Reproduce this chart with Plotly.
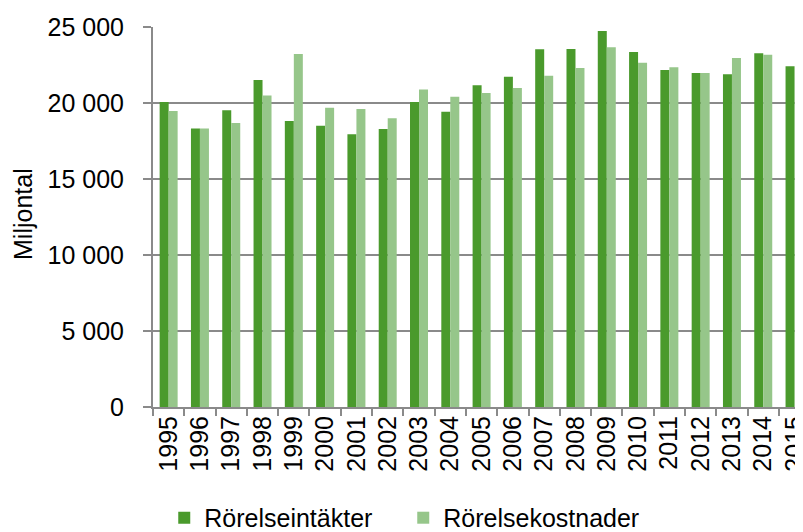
import plotly.graph_objects as go

years = [str(y) for y in range(1995, 2016)]
intakter = [20070, 18330, 19520, 21510, 18820, 18500, 17940, 18290, 20070, 19430,
            21160, 21730, 23530, 23550, 24740, 23360, 22170, 21970, 21890, 23270, 22410]
kostnader = [19470, 18330, 18680, 20500, 23220, 19690, 19600, 18990, 20880, 20410,
             20660, 20990, 21800, 22300, 23660, 22650, 22350, 21970, 22960, 23180, 21660]
y_tickvals = [0, 5000, 10000, 15000, 20000, 25000]
y_ticktext = ["0", "5 000", "10 000", "15 000", "20 000", "25 000"]
series_names = ["Rörelseintäkter", "Rörelsekostnader"]
y_title = "Miljontal"

FONT = "Liberation Sans, Arial, sans-serif"
GRAY = "#8a8a8a"

fig = go.Figure()
fig.add_trace(go.Bar(x=years, y=intakter, name=series_names[0],
                     marker=dict(color="#4a9a2c", line=dict(width=0))))
fig.add_trace(go.Bar(x=years, y=kostnader, name=series_names[1],
                     marker=dict(color="#96c68a", line=dict(width=0))))

# page body has an 8px margin; figure is sized to fill the rest of the window
fig.update_layout(
    width=795, height=524,
    margin=dict(l=145, r=0, t=19, b=125, pad=0, autoexpand=False),
    paper_bgcolor="white", plot_bgcolor="white",
    font=dict(family=FONT, size=25, color="#000000"),
    barmode="group", bargap=0.425, bargroupgap=0,
    showlegend=True,
    legend=dict(orientation="h", x=0.385, xanchor="center", y=-0.292, yanchor="middle",
                font=dict(size=25), bgcolor="rgba(0,0,0,0)", itemclick=False,
                tracegroupgap=0, entrywidth=194),
    annotations=[dict(text=y_title, textangle=-90, xref="paper", yref="paper",
                      x=-0.2, y=0.508, xanchor="center", yanchor="middle",
                      showarrow=False, font=dict(size=25))],
)
fig.update_xaxes(
    type="category", range=[-0.5, 20.27], automargin=False,
    tickangle=-90, tickson="boundaries", ticks="outside", ticklen=7,
    tickcolor=GRAY, tickwidth=2, showline=True, linecolor=GRAY, linewidth=2,
    showgrid=False, tickfont=dict(size=25), ticklabelstandoff=-3, fixedrange=True,
)
fig.update_yaxes(
    range=[0, 25000], tickvals=y_tickvals, ticktext=y_ticktext, automargin=False,
    ticks="outside", ticklen=8, tickcolor=GRAY, tickwidth=2,
    showline=True, linecolor=GRAY, linewidth=2,
    showgrid=True, gridcolor=GRAY, gridwidth=2, zeroline=False,
    tickfont=dict(size=25), ticklabelstandoff=14,
    fixedrange=True,
)

fig.write_html("out.html")
